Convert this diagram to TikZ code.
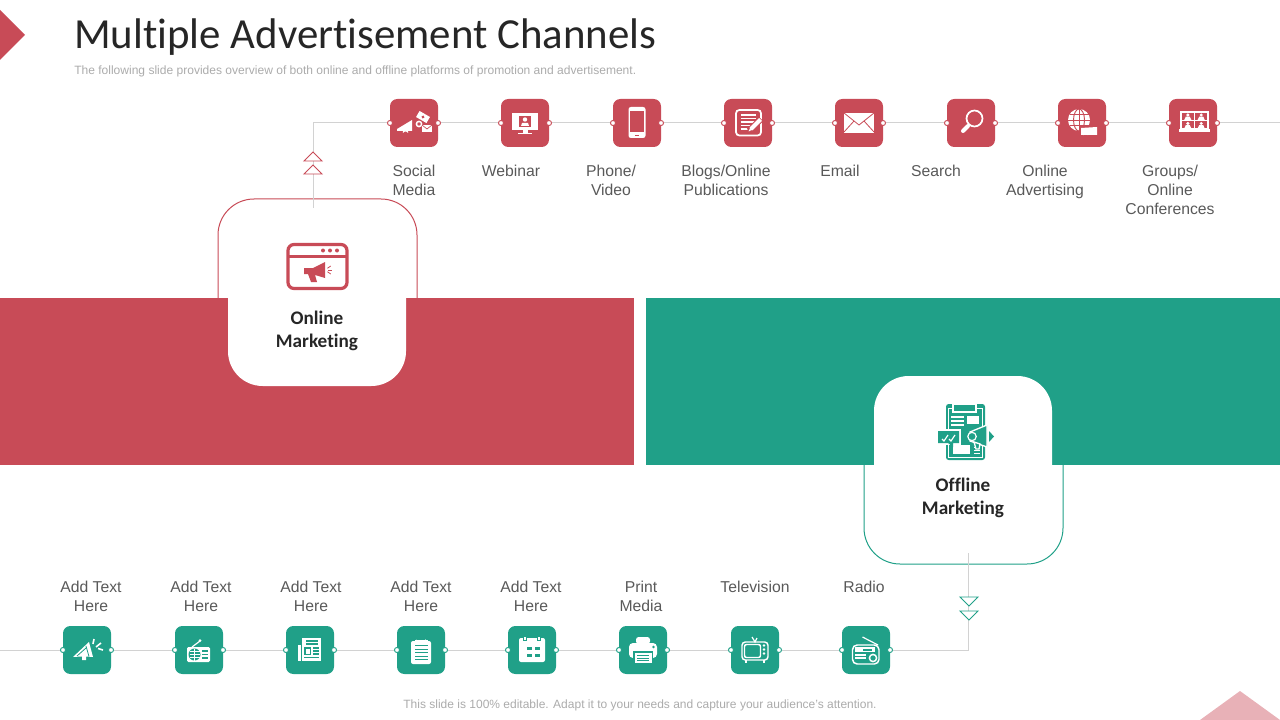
\documentclass[tikz,border=0pt]{standalone}
\usepackage{fontspec}
\setmainfont{Liberation Sans}
\newfontfamily\calib[Ligatures=NoCommon]{Carlito}
\definecolor{cred}{HTML}{C84B57}
\definecolor{cteal}{HTML}{20A088}
\definecolor{cpink}{HTML}{E8B1B7}
\definecolor{cconn}{HTML}{D2D2D2}
\definecolor{ctext}{HTML}{595959}
\definecolor{ctitle}{HTML}{262626}
\definecolor{csub}{HTML}{ABABAB}
\tikzset{
 tile/.style={minimum size=36pt,inner sep=0pt,rounded corners=5.5pt,fill=#1,draw=none},
 port/.style={circle,inner sep=0pt,minimum size=3.8pt,fill=white,draw=#1,line width=.7pt},
 conn/.style={draw=cconn,line width=.75pt},
 chan/.style={font=\fontsize{11.8}{14.25}\selectfont,text=ctext,align=center,inner sep=0pt,anchor=north},
 cardlabel/.style={font=\calib\bfseries\fontsize{14.4}{17.25}\selectfont,text=ctitle,align=center,inner sep=0pt},
}
% ---- icons (local px coordinates around the tile centre) ----
\newcommand{\icSocial}{
 \fill[white] (-17,6)--(-2,-3)--(-2,8)--(-17,8)--cycle;
 \draw[white,line width=.8pt] (-11,9.5) arc (180:360:2.5 and 1.5);
 \begin{scope}[shift={(9,-6)},rotate=-30]\fill[white](-6,-3.5) rectangle (6,3.5);\fill[cred](0,0) circle (1.6);\end{scope}
 \draw[white,line width=1.1pt,fill=cred] (5,1) circle (2.6);
 \fill[white](8,2) rectangle (18,9);
 \draw[cred,line width=.5pt](8,2)--(13,6)--(18,2);
}
\newcommand{\icWebinar}{
 \fill[white](-13,-10) rectangle (13,7);
 \fill[cred](-6,-7) rectangle (6,4);
 \fill[white](0,-3.5) circle (2.2);
 \fill[white](-4,3)--(-3,0)--(3,0)--(4,3)--cycle;
 \fill[white](-2.5,7) rectangle (2.5,10);
 \fill[white](-7,10) rectangle (7,11.5);
}
\newcommand{\icPhone}{
 \fill[white,rounded corners=1.8pt](-8.5,-16) rectangle (8.5,15);
 \fill[cred](-6.8,-12) rectangle (6.8,9.5);
 \fill[cred](-2,11.6) rectangle (2,13);
}
\newcommand{\icBlog}{
 \draw[white,line width=1.3pt,rounded corners=2.5pt](-12,-13) rectangle (13,12.5);
 \foreach \yy/\xe in {-8/8,-4.5/8,-1/8,2.5/4,6/1}{\draw[white,line width=1.1pt](-7.5,\yy)--(\xe,\yy);}
 \draw[cred,line width=4.6pt](1,8)--(13,-4);
 \draw[white,line width=3pt](3,6)--(12.5,-3.5);
 \fill[white](2.3,4.5)--(4.5,6.7)--(0.5,8.5)--cycle;
}
\newcommand{\icMail}{
 \fill[white](-15,-10) rectangle (15,10);
 \draw[cred,line width=.6pt](-15,-10)--(0,2)--(15,-10);
 \draw[cred,line width=.6pt](-15,9)--(-5,-2);
 \draw[cred,line width=.6pt](15,9)--(5,-2);
}
\newcommand{\icSearch}{
 \draw[white,line width=1.3pt](3.5,-4.5) circle (8);
 \draw[white,line width=3pt,line cap=round](-8,8)--(-3,3);
 \draw[white,line width=1.1pt](-3,3)--(-1.5,1.5);
}
\newcommand{\icGlobe}{
 \fill[white](-3,-3) circle (11);
 \draw[cred,line width=.7pt](-3,-14)--(-3,8);
 \draw[cred,line width=.7pt](-14,-3)--(8,-3);
 \draw[cred,line width=.7pt](-3,-3) ellipse (5.5 and 11);
 \draw[cred,line width=.7pt](-12.5,-8.5)--(6.5,-8.5);
 \draw[cred,line width=.7pt](-12.5,2.5)--(6.5,2.5);
 \fill[cred](-3,3) rectangle (17,13);
 \fill[white](-1,5)--(15,4)--(15,12)--(-1,12)--cycle;
 \draw[white,line width=.7pt](1,12) arc (180:360:2.5);
}
\newcommand{\icGroups}{
 \draw[white,line width=1.1pt](-12,-11) rectangle (15,6);
 \draw[white,line width=.9pt](1.5,-11)--(1.5,6);
 \draw[white,line width=.9pt](-12,-2.5)--(15,-2.5);
 \foreach \px/\py in {-5.2/-8,8.2/-8,-5.2/.5,8.2/.5}{
  \fill[white](\px,\py) circle (1.7);
  \fill[white](\px-3.6,\py+5)--(\px-2,\py+1.6)--(\px+2,\py+1.6)--(\px+3.6,\py+5)--cycle;
 }
 \fill[white](-14,6.5)--(17,6.5)--(17,9)--(-14,9)--cycle;
}
\newcommand{\icHorn}{
 \fill[white](-14,7)--(2,-8)--(6,7)--(-1,6.5)--(-1,10)--(-5,10)--(-5,6.5)--cycle;
 \draw[cteal,line width=.6pt](-1,-4)--(2,6.5);
 \draw[cteal,line width=.6pt](-10,6)--(-1,-2);
 \draw[white,line width=1.2pt](7,-11)--(6,-6);
 \draw[white,line width=1.2pt](14,-7)--(9,-3);
 \draw[white,line width=1.2pt](16,0)--(11,-1.5);
}
\newcommand{\icRadio}{
 \fill[white,rounded corners=1pt](-12,-3) rectangle (11,12);
 \draw[white,line width=.9pt](-7,-3)--(1,-9);
 \fill[white](1,-9.5) circle (1.5);
 \fill[cteal](-4.5,4.5) circle (6);
 \foreach \yy in {1.5,4.5,7.5}{\draw[white,line width=.7pt](-9.5,\yy)--(.5,\yy);}
 \draw[white,line width=.8pt](-4.5,-1.5)--(-4.5,10.5);
 \foreach \yy in {1,4.5,8}{\fill[cteal](3,\yy-.7) rectangle (9,\yy+.7);}
}
\newcommand{\icNews}{
 \fill[white](-8,-12) rectangle (11,11);
 \fill[white](-12,-5) rectangle (-9,11);
 \foreach \yy in {-9,-6}{\fill[cteal](-4,\yy-.6) rectangle (8,\yy+.6);}
 \fill[cteal](-6,-3) rectangle (1,5);
 \fill[white](-4.5,-1.5) rectangle (-.5,3.5);
 \foreach \yy in {-2,1,4}{\fill[cteal](3,\yy-.6) rectangle (9,\yy+.6);}
 \fill[cteal](-6,6.9) rectangle (9,8.1);
}
\newcommand{\icClip}{
 \fill[white,rounded corners=1.5pt](-10,-9) rectangle (10,14);
 \fill[white](-4.5,-10)--(-4.5,-11) arc (180:0:4.5)--(4.5,-10)--cycle;
 \fill[white](-6.5,-10) rectangle (6.5,-8);
 \fill[cteal](0,-11.5) circle (1.3);
 \foreach \yy in {-4.5,-1,2.5,6,9.5}{\fill[cteal](-6.5,\yy-.5) rectangle (6.5,\yy+.5);}
}
\newcommand{\icCal}{
 \fill[white,rounded corners=1.5pt](-13,-12) rectangle (13,12);
 \foreach \xx in {-7,7}{\fill[cteal](\xx-2.2,-13) rectangle (\xx+2.2,-9);\fill[white](\xx-1.3,-13.5) rectangle (\xx+1.3,-10);}
 \foreach \xx in {-5,3}{\foreach \yy in {-3,4}{\fill[cteal](\xx,\yy) rectangle (\xx+4.5,\yy+3.2);}}
}
\newcommand{\icPrint}{
 \fill[white,rounded corners=2pt](-7,-13) rectangle (7,-6);
 \fill[white,rounded corners=3pt](-14,-7) rectangle (14,8);
 \fill[cteal](-10,1) rectangle (10,14);
 \fill[white](-8.5,3) rectangle (8.5,13);
 \foreach \yy in {5.5,8,10.5}{\fill[cteal](-6,\yy-.45) rectangle (6,\yy+.45);}
 \fill[cteal](10.5,-3) circle (1.3);
}
\newcommand{\icTV}{
 \draw[white,line width=1.1pt,rounded corners=2.5pt](-13,-8) rectangle (13,10);
 \draw[white,line width=1.1pt,rounded corners=1.5pt](-10.5,-5.5) rectangle (5.5,7.5);
 \foreach \yy in {-4.5,-.5,3.5}{\fill[white](9,\yy) circle (1.4);}
 \draw[white,line width=.9pt](-3,-13)--(0,-8)--(2,-12);
 \draw[white,line width=.9pt](-9,10)--(-9,13);
 \draw[white,line width=.9pt](9,10)--(9,13);
}
\newcommand{\icRadioB}{
 \draw[white,line width=1.1pt,rounded corners=3.5pt](-13.5,-5) rectangle (13,14);
 \draw[white,line width=.9pt](-3.5,-13)--(12,-5);
 \fill[white](-11,-3) rectangle (9,2);
 \fill[cteal](-3,-1.5) rectangle (6,.5);
 \draw[white,line width=.9pt](-11,5)--(0,5);
 \draw[white,line width=.9pt](-11,8)--(0,8);
 \draw[white,line width=1.1pt](7,8) circle (3.6);
}
\begin{document}
\begin{tikzpicture}[x=.75pt,y=-.75pt]
\useasboundingbox (0,0) rectangle (1280,720);
% decorations
\fill[cred] (0,10)--(25,35)--(0,60)--cycle;
\fill[cpink] (1200,720)--(1240,691)--(1280,720)--cycle;
% titles
\node[name=title,anchor=west,inner sep=0pt,font=\calib\fontsize{32.15}{38}\selectfont,text=ctitle] at (74,37.5) {Multiple Advertisement Channels};
\node[name=subtitle,anchor=west,inner sep=0pt,font=\fontsize{9.03}{11}\selectfont,text=csub] at (74,71.5) {The following slide provides overview of both online and offline platforms of promotion and advertisement.};
\node[name=footer,inner sep=0pt,font=\fontsize{9}{11}\selectfont,text=csub] at (640,705) {This slide is 100\% editable. Adapt it to your needs and capture your audience's attention.};
% card outlines
\draw[cred,line width=.75pt,fill=white,rounded corners=27pt] (218,340)--(218,199)--(417,199)--(417,340);
\draw[cteal,line width=.75pt,fill=white,rounded corners=27pt] (864,423)--(864,564)--(1063,564)--(1063,423);
% bands
\fill[cred] (0,298) rectangle (634,465);
\fill[cteal] (646,298) rectangle (1280,465);
% white cards
\fill[white,rounded corners=26pt] (228,260)--(228,386)--(406,386)--(406,260)--cycle;
\fill[white] (228,290) rectangle (406,320);
\fill[white,rounded corners=26pt] (874,500)--(874,376)--(1052,376)--(1052,500)--cycle;
\fill[white] (874,450) rectangle (1052,480);
\node[cardlabel,name=online] at (317,331) {Online\\Marketing};
\node[cardlabel,name=offline] at (963,498) {Offline\\Marketing};
% trunk coordinates
\coordinate (topstart) at (313,208);
\coordinate (topbend) at (313,123);
\coordinate (topend) at (1280,123);
\coordinate (botstart) at (968,553);
\coordinate (botbend) at (968,650);
\coordinate (botend) at (0,650);
% tile positions
\foreach \n/\xx in {1/414,2/525,3/637,4/748,5/859,6/971,7/1082,8/1193}{
 \coordinate (aC\n) at (\xx,123);
 \coordinate (aCL\n) at (\xx-24,123);
 \coordinate (aCR\n) at (\xx+24,123);
}
\foreach \n/\xx in {1/87,2/199,3/310,4/421,5/532,6/643,7/755,8/866}{
 \coordinate (bC\n) at (\xx,650);
 \coordinate (bCL\n) at (\xx-24,650);
 \coordinate (bCR\n) at (\xx+24,650);
}
\foreach \n in {1,...,8}{
 \node[tile=cred,name=a\n] at (aC\n) {};
 \node[tile=cteal,name=b\n] at (bC\n) {};
 \node[port=cred,name=aL\n] at (aCL\n) {};
 \node[port=cred,name=aR\n] at (aCR\n) {};
 \node[port=cteal,name=bL\n] at (bCL\n) {};
 \node[port=cteal,name=bR\n] at (bCR\n) {};
}
\draw[conn] (topstart)--(topbend)--(aL1);
\foreach \i/\j in {1/2,2/3,3/4,4/5,5/6,6/7,7/8}{
 \draw[conn] (aR\i)--(aL\j);
 \draw[conn] (bR\i)--(bL\j);
}
\draw[conn] (aR8)--(topend);
\draw[conn] (botstart)--(botbend)--(bR8);
\draw[conn] (bL1)--(botend);
% chevrons
\draw[cred,line width=.7pt,fill=white] (304,161)--(313,152)--(322,161)--cycle;
\draw[cred,line width=.7pt,fill=white] (304,174)--(313,165)--(322,174)--cycle;
\draw[cteal,line width=.7pt,fill=white] (960,597)--(969,606)--(978,597)--cycle;
\draw[cteal,line width=.7pt,fill=white] (960,611)--(969,620)--(978,611)--cycle;
% icons
\begin{scope}[shift={(414,123)}]\icSocial\end{scope}
\begin{scope}[shift={(525,123)}]\icWebinar\end{scope}
\begin{scope}[shift={(637,123)}]\icPhone\end{scope}
\begin{scope}[shift={(748,123)}]\icBlog\end{scope}
\begin{scope}[shift={(859,123)}]\icMail\end{scope}
\begin{scope}[shift={(971,123)}]\icSearch\end{scope}
\begin{scope}[shift={(1082,123)}]\icGlobe\end{scope}
\begin{scope}[shift={(1193,123)}]\icGroups\end{scope}
\begin{scope}[shift={(87,650)}]\icHorn\end{scope}
\begin{scope}[shift={(199,650)}]\icRadio\end{scope}
\begin{scope}[shift={(310,650)}]\icNews\end{scope}
\begin{scope}[shift={(421,650)}]\icClip\end{scope}
\begin{scope}[shift={(532,650)}]\icCal\end{scope}
\begin{scope}[shift={(643,650)}]\icPrint\end{scope}
\begin{scope}[shift={(755,650)}]\icTV\end{scope}
\begin{scope}[shift={(866,650)}]\icRadioB\end{scope}
% online icon
\draw[cred,line width=2.4pt,rounded corners=4.5pt] (288,244.5) rectangle (347,288.5);
\draw[cred,line width=2.2pt] (288,256.5)--(347,256.5);
\foreach \xx in {323,330,337}{\fill[cred](\xx,250.5) circle (2);}
\fill[cred] (304,268)--(313,268)--(325,262)--(325,278)--(315,275)--(317,282)--(311,282)--(308,274)--(304,274)--cycle;
\foreach \ang in {-35,0,35}{\draw[cred,line width=.6pt] (325,270)++(\ang:3) --++(\ang:4);}
% offline icon
\fill[cteal,rounded corners=2pt] (946,404) rectangle (985,460);
\draw[white,line width=.6pt] (948.5,408) rectangle (982.5,457);
\draw[white,line width=.8pt,fill=cteal] (953,404) rectangle (976,412);
\foreach \yy in {417,421,425}{\draw[white,line width=.8pt](951,\yy)--(964,\yy);}
\fill[white] (967,416) rectangle (979,424);
\fill[white] (953,445) rectangle (970,454);
\foreach \yy in {447,450,453}{\draw[white,line width=.7pt](974,\yy)--(980,\yy);}
\fill[white] (936,429) rectangle (961,445);
\fill[cteal] (938,431)--(959,431)--(959,443)--(953,443)--(953,447)--(948,443)--(938,443)--cycle;
\draw[white,line width=.9pt] (942,439)--(944,441)--(948,435) (949,439)--(951,441)--(955,435);
\draw[white,line width=1pt,fill=cteal] (970,432)--(987,425)--(987,447)--(970,441)--cycle;
\draw[white,line width=1pt,fill=cteal] (974,442)--(980,444)--(979,449)--(976,449)--cycle;
\draw[white,line width=.9pt,fill=cteal] (972,436.5) circle (4.2);
\fill[cteal] (989,431)--(994,436.5)--(989,442)--cycle;
% channel labels
\node[chan,name=c1] at (414,165) {Social\\Media};
\node[chan,name=c2] at (511,165) {Webinar};
\node[chan,name=c3] at (611,165) {Phone/\\Video};
\node[chan,name=c4] at (726,165) {Blogs/Online\\Publications};
\node[chan,name=c5] at (840,165) {Email};
\node[chan,name=c6] at (936,165) {Search};
\node[chan,name=c7] at (1045,165) {Online\\Advertising};
\node[chan,name=c8] at (1170,165) {Groups/\\Online\\Conferences};
\node[chan,name=d1] at (91,581) {Add Text\\Here};
\node[chan,name=d2] at (201,581) {Add Text\\Here};
\node[chan,name=d3] at (311,581) {Add Text\\Here};
\node[chan,name=d4] at (421,581) {Add Text\\Here};
\node[chan,name=d5] at (531,581) {Add Text\\Here};
\node[chan,name=d6] at (641,581) {Print\\Media};
\node[chan,name=d7] at (755,581) {Television};
\node[chan,name=d8] at (864,581) {Radio};
\end{tikzpicture}
\end{document}
